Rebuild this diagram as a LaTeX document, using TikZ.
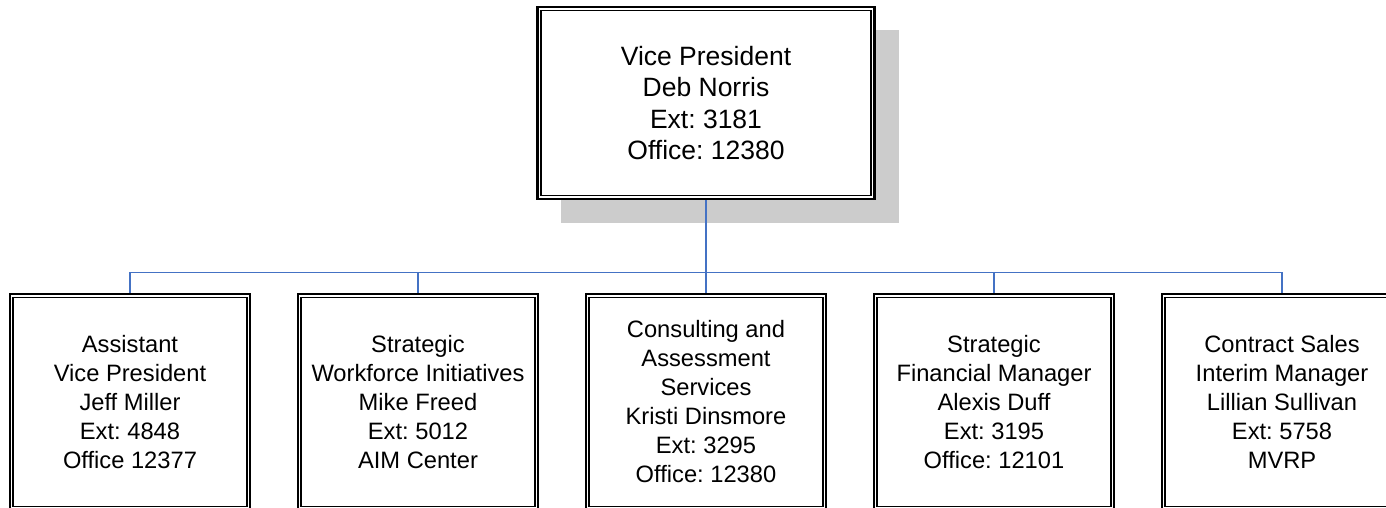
\documentclass[tikz,border=0pt]{standalone}
\usepackage{fontspec}
\setmainfont{Liberation Sans}
\definecolor{linkblue}{HTML}{4472C4}
\definecolor{shadowgray}{HTML}{CCCCCC}
\frenchspacing
\begin{document}
\begin{tikzpicture}[x=1pt,y=1pt,
  outerbox/.style={draw=black, line width=2.4pt, fill=white, inner sep=0pt, align=center},
  vpbox/.style={outerbox, minimum width=337pt, minimum height=192pt, font=\fontsize{26.5}{31.5}\selectfont},
  unitbox/.style={outerbox, minimum width=240pt, minimum height=216pt, font=\fontsize{23.7}{29}\selectfont},
  innerline/.style={draw=black, line width=1.5pt},
  link/.style={draw=linkblue, line width=1.7pt},
  shadowbox/.style={fill=shadowgray, inner sep=0pt, minimum width=338pt, minimum height=193pt}]
\clip (0,0) rectangle (1386,-507);
\node[shadowbox] (vpshadow) at (730,-126.5) {};
\node[vpbox] (vp) at (706,-103) {Vice President\\Deb Norris\\Ext: 3181\\Office: 12380};
\draw[innerline] ([shift={(4.5pt,-4.5pt)}]vp.north west) rectangle ([shift={(-4.5pt,4.5pt)}]vp.south east);

\node[unitbox] (b1) at (130,-402) {Assistant\\Vice President\\Jeff Miller\\Ext: 4848\\Office 12377};
\node[unitbox] (b2) at (418,-402) {Strategic\\Workforce Initiatives\\Mike Freed\\Ext: 5012\\AIM Center};
\node[unitbox] (b3) at (706,-402) {Consulting and\\Assessment\\Services\\Kristi Dinsmore\\Ext: 3295\\Office: 12380};
\node[unitbox] (b4) at (994,-402) {Strategic\\Financial Manager\\Alexis Duff\\Ext: 3195\\Office: 12101};
\node[unitbox] (b5) at (1282,-402) {Contract Sales\\Interim Manager\\Lillian Sullivan\\Ext: 5758\\MVRP};
\foreach \b in {b1,b2,b3,b4,b5}{
  \draw[innerline] ([shift={(4pt,-4.5pt)}]\b.north west) rectangle ([shift={(-4pt,4.5pt)}]\b.south east);
}
\coordinate (bus) at (706,-272.5);
\draw[link] (vp.south) -- (bus);
\foreach \b in {b1,b2,b3,b4,b5}{
  \draw[link] (bus) -| (\b.north);
}
\end{tikzpicture}
\end{document}
